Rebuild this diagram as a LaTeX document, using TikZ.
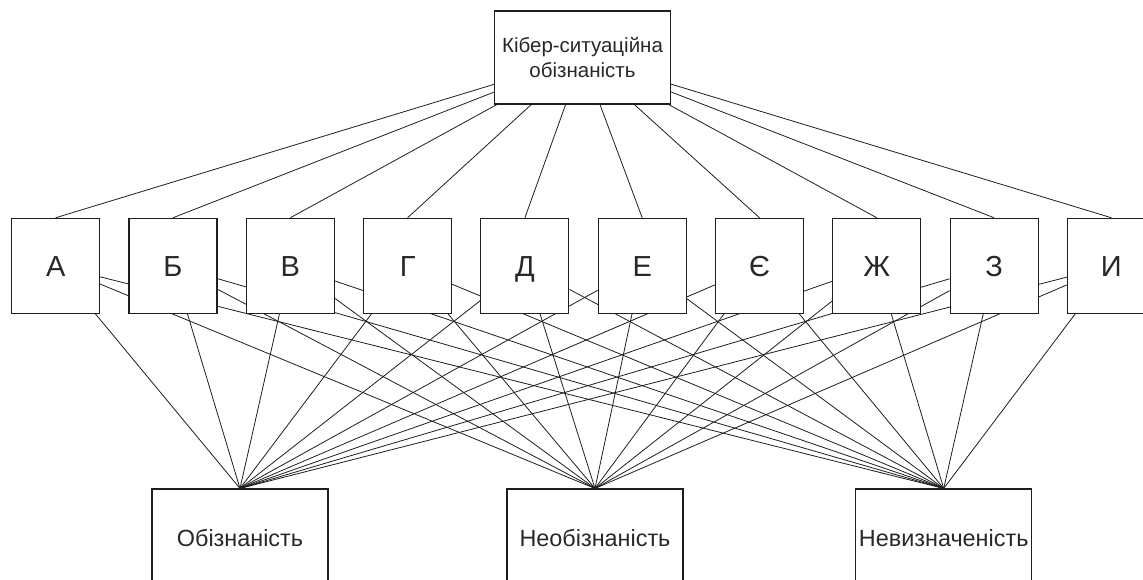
\documentclass[tikz,border=0pt]{standalone}
\usepackage{fontspec}
\setmainfont{Liberation Sans}
\usetikzlibrary{positioning, backgrounds}
\definecolor{linegray}{RGB}{30,30,30}
\definecolor{textgray}{RGB}{40,40,40}
\tikzstyle{box} = [draw=linegray, fill=white, line width=1.1pt, minimum width=176pt, minimum height=93pt, inner sep=0pt, align=center, text=textgray, font=\fontsize{20.5}{25.5}\selectfont]
\tikzstyle{outcome} = [box, minimum height=98pt, font=\fontsize{23.4}{26}\selectfont]
\tikzstyle{letter} = [draw=linegray, fill=white, line width=1.1pt, minimum width=88pt, minimum height=95pt, inner sep=0pt, text height=20.8pt, text depth=0pt, text=textgray, font=\fontsize{29}{30}\selectfont]
\tikzstyle{link} = [line width=0.8pt, linegray]

\begin{document}
\begin{tikzpicture}[x=1pt,y=-1pt]
\useasboundingbox (0,0) rectangle (1143,580);
% Top node
\node[box] (kiber) at (582.5,57.5) {Кібер-ситуаційна\\обізнаність};
% Middle row of letters
\foreach \l [count=\i from 0] in {А,Б,В,Г,Д,Е,Є,Ж,З,И} {
  \node[letter] (m\i) at (55.7+117.3*\i,265.8) {\l};
}
% Bottom row
\node[outcome] (obiz) at (240,538) {Обізнаність};
\node[outcome] (neobiz) at (595,538) {Необізнаність};
\node[outcome] (nevyzn) at (943.7,538) {Невизначеність};
% Links
\begin{pgfonlayer}{background}
\foreach \i in {0,...,9} {
  \draw[link] (kiber) -- (m\i.north);
  \draw[link] (m\i) -- (obiz.north);
  \draw[link] (m\i) -- (neobiz.north);
  \draw[link] (m\i) -- (nevyzn.north);
}
\end{pgfonlayer}
\end{tikzpicture}
\end{document}
